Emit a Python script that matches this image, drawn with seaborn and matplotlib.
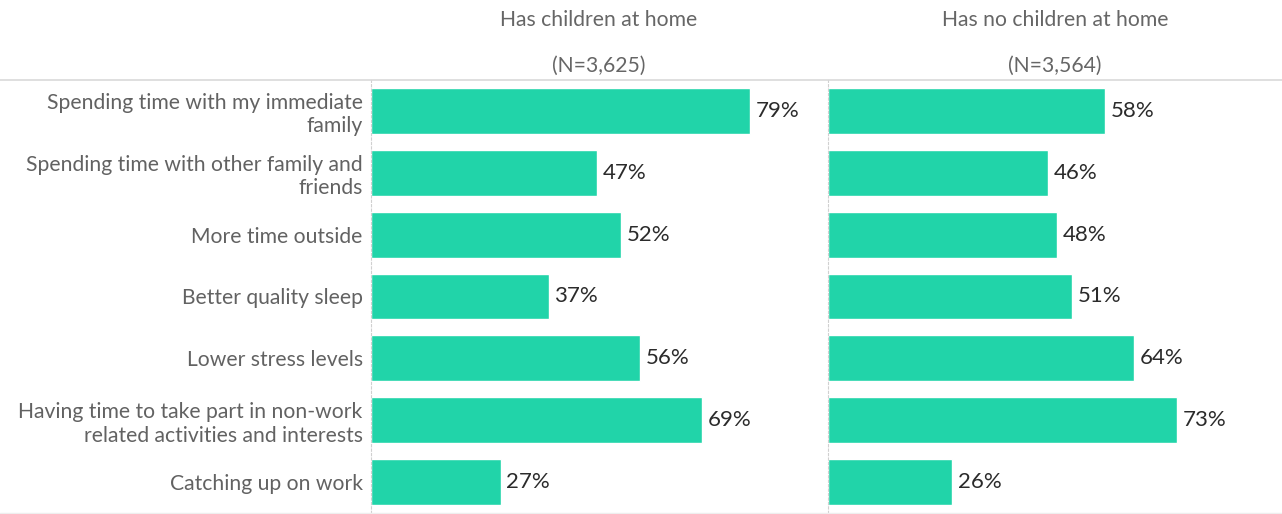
import matplotlib
matplotlib.use("Agg")
import matplotlib.pyplot as plt
from matplotlib.lines import Line2D
import seaborn as sns
import pandas as pd

categories = [
    "Spending time with my immediate\nfamily",
    "Spending time with other family and\nfriends",
    "More time outside",
    "Better quality sleep",
    "Lower stress levels",
    "Having time to take part in non-work\nrelated activities and interests",
    "Catching up on work",
]
with_children = [79, 47, 52, 37, 56, 69, 27]
without_children = [58, 46, 48, 51, 64, 73, 26]
panel_titles = ["Has children at home", "Has no children at home"]
panel_counts = ["(N=3,625)", "(N=3,564)"]

sns.set_theme(style="white")
plt.rcParams["font.family"] = ["Lato", "DejaVu Sans"]

W, H = 1282, 514
fig = plt.figure(figsize=(W / 100, H / 100), dpi=100)
top = 80
bottom = 1
ax_h = H - top - bottom
ax1 = fig.add_axes([371 / W, bottom / H, 456 / W, ax_h / H])
ax2 = fig.add_axes([828 / W, bottom / H, 454 / W, ax_h / H])

bar_color = "#21D4A9"
for ax, vals, title, count, show_labels in [
    (ax1, with_children, panel_titles[0], panel_counts[0], True),
    (ax2, without_children, panel_titles[1], panel_counts[1], False),
]:
    df = pd.DataFrame({"cat": categories, "val": vals})
    sns.barplot(data=df, y="cat", x="val", orient="h", color=bar_color,
                width=0.74, ax=ax, saturation=1)
    ax.set_xlim(0, 95)
    ax.set_ylim(6.5, -0.5)
    ax.set_xlabel("")
    ax.set_ylabel("")
    ax.set_xticks([])
    for i, v in enumerate(vals):
        ax.text(v + 1.2, i, f"{v}%", va="center", ha="left", fontsize=16, color="#2b2b2b")
    for s in ["top", "right", "bottom"]:
        ax.spines[s].set_visible(False)
    ax.spines["left"].set_linestyle((0, (2, 2)))
    ax.spines["left"].set_color("#d0d0d0")
    ax.spines["left"].set_linewidth(0.8)
    ax.tick_params(axis="y", length=0, pad=6)
    if show_labels:
        ax.set_yticklabels(categories, fontsize=15.2, color="#626262", ha="right",
                           linespacing=1.22)
    else:
        ax.set_yticklabels([])
    ax.text(0.5, 1.0 + 60 / ax_h, title, transform=ax.transAxes,
            ha="center", va="center", fontsize=15.2, color="#666666")
    ax.text(0.5, 1.0 + 14 / ax_h, count, transform=ax.transAxes,
            ha="center", va="center", fontsize=15.2, color="#666666")

fig.add_artist(Line2D([0, 1], [(H - top) / H, (H - top) / H], color="#d9d9d9", lw=1.2))
fig.add_artist(Line2D([0, 1], [1.5 / H, 1.5 / H], color="#eeeeee", lw=1))

fig.savefig("out.png", dpi=100)
